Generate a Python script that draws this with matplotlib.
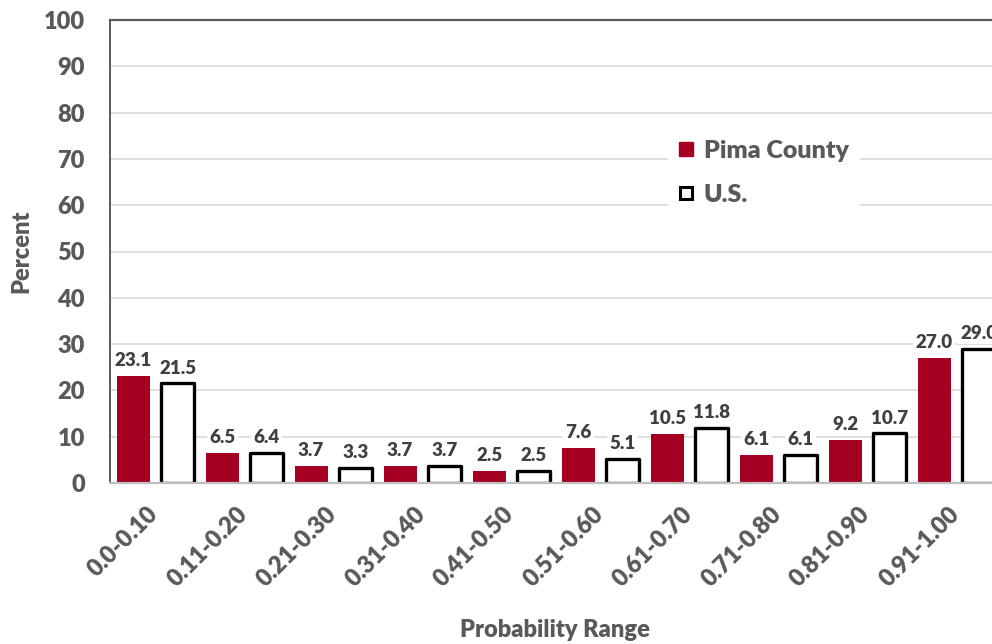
import matplotlib.pyplot as plt
import numpy as np
from matplotlib.lines import Line2D

FONT = ["Lato", "DejaVu Sans"]
plt.rcParams["font.family"] = FONT
plt.rcParams["font.weight"] = "heavy"

ranges = ["0.0-0.10", "0.11-0.20", "0.21-0.30", "0.31-0.40", "0.41-0.50",
          "0.51-0.60", "0.61-0.70", "0.71-0.80", "0.81-0.90", "0.91-1.00"]
pima = [23.1, 6.5, 3.7, 3.7, 2.5, 7.6, 10.5, 6.1, 9.2, 27.0]
us = [21.5, 6.4, 3.3, 3.7, 2.5, 5.1, 11.8, 6.1, 10.7, 29.0]

RED = "#a50021"
TICK = "#595959"
LABEL = "#404040"
WT = "heavy"

fig = plt.figure(figsize=(9.92, 6.44), dpi=100)
# right edge of the plot runs off the picture, as in the source
ax = fig.add_axes([110 / 992, 161 / 644, 890 / 992, 463 / 644])

x = np.arange(len(ranges))
w = 0.37
b1 = ax.bar(x - 0.24, pima, w, color=RED, zorder=2)
b2 = ax.bar(x + 0.26, us, w, facecolor="white", edgecolor="black",
            linewidth=2.4, joinstyle="round", zorder=2)

for bars in (b1, b2):
    for r in bars:
        ax.annotate(f"{r.get_height():.1f}",
                    (r.get_x() + r.get_width() / 2, r.get_height()),
                    xytext=(0, 5), textcoords="offset points",
                    ha="center", va="bottom", fontsize=13.5,
                    fontweight=WT, color=LABEL, zorder=5,
                    bbox=dict(boxstyle="square,pad=0.12", fc="white", ec="none"))

ax.set_xlim(-0.5, len(ranges) - 0.5)
ax.set_ylim(0, 100)
ax.set_yticks(range(0, 101, 10))
ax.yaxis.grid(True, color="#d9d9d9", linewidth=1.2, zorder=0)
ax.set_axisbelow(True)

ax.set_xticks(x)
ax.set_xticklabels(ranges, rotation=45, ha="right", va="center",
                   rotation_mode="anchor")
ax.tick_params(axis="both", length=0, labelcolor=TICK)
ax.tick_params(axis="x", pad=20, labelsize=17)
ax.tick_params(axis="y", pad=18, labelsize=17)
for t in ax.get_xticklabels() + ax.get_yticklabels():
    t.set_fontweight(WT)

ax.spines["top"].set_color(TICK)
ax.spines["top"].set_linewidth(1.6)
ax.spines["left"].set_color(TICK)
ax.spines["left"].set_linewidth(1.4)
ax.spines["bottom"].set_color("#bfbfbf")
ax.spines["bottom"].set_linewidth(1.6)
ax.spines["right"].set_visible(False)

ax.set_ylabel("Percent", fontsize=17, fontweight=WT, color=TICK, labelpad=8)
ax.set_xlabel("Probability Range", fontsize=17, fontweight=WT, color=TICK,
              labelpad=20)

handles = [
    Line2D([], [], marker="s", linestyle="none", markersize=10,
           markerfacecolor=RED, markeredgecolor=RED),
    Line2D([], [], marker="s", linestyle="none", markersize=9,
           markerfacecolor="white", markeredgecolor="black", markeredgewidth=2.2),
]
leg = ax.legend(handles, ["Pima County", "U.S."], loc="upper left",
                bbox_to_anchor=(655 / 992, 1 - 117 / 644), bbox_transform=fig.transFigure,
                frameon=True, fancybox=False, framealpha=1, edgecolor="white",
                prop={"family": FONT, "weight": WT, "size": 18},
                labelcolor=TICK, handlelength=0.7, handletextpad=0.35,
                labelspacing=0.9, borderpad=0.4)
leg.set_zorder(6)

fig.savefig("out.png", dpi=100)
